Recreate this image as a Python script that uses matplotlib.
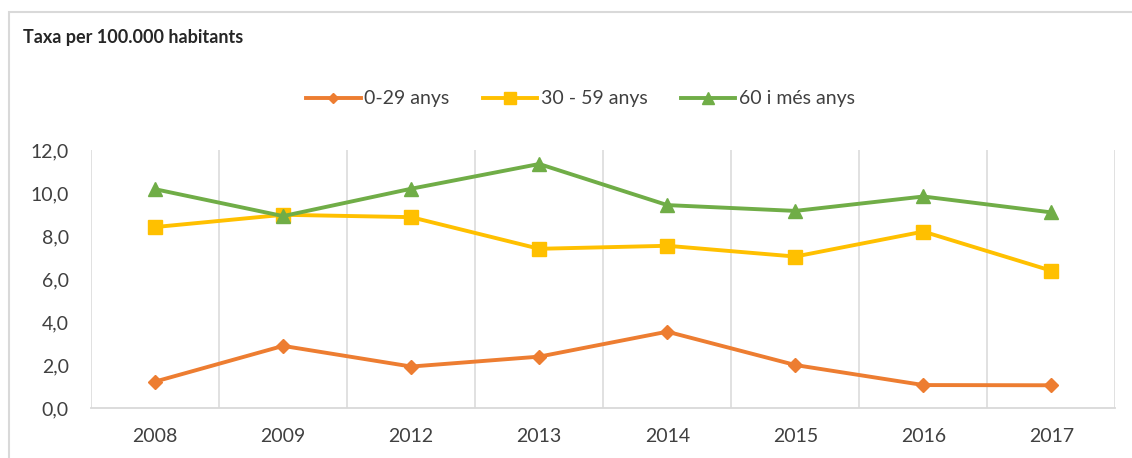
import matplotlib.pyplot as plt
from matplotlib.patches import Rectangle
from matplotlib.ticker import FuncFormatter

plt.rcParams['font.family'] = ['Lato', 'DejaVu Sans']

anys = ['2008', '2009', '2012', '2013', '2014', '2015', '2016', '2017']
joves = [1.24, 2.9, 1.94, 2.4, 3.56, 2.01, 1.08, 1.07]
adults = [8.42, 8.99, 8.88, 7.41, 7.55, 7.05, 8.21, 6.39]
grans = [10.18, 8.93, 10.2, 11.35, 9.44, 9.17, 9.84, 9.1]

noms = ['0-29 anys', '30 - 59 anys', '60 i més anys']
colors = ['#ED7D31', '#FFC000', '#70AD47']
text_col = '#404040'

fig = plt.figure(figsize=(11.32, 4.58), dpi=100)
ax = fig.add_axes([0.0804, 0.1085, 0.905, 0.5640])

x = range(len(anys))
ax.plot(x, joves, color=colors[0], lw=2.8, marker='D', ms=7, label=noms[0])
ax.plot(x, adults, color=colors[1], lw=2.8, marker='s', ms=10.5, label=noms[1])
ax.plot(x, grans, color=colors[2], lw=2.8, marker='^', ms=10.5, label=noms[2])

ax.set_xlim(-0.5, len(anys) - 0.5)
ax.set_ylim(0, 12)
ax.set_yticks([0, 2, 4, 6, 8, 10, 12])
ax.yaxis.set_major_formatter(FuncFormatter(lambda v, p: f'{v:.1f}'.replace('.', ',')))
ax.set_xticks(list(x))
ax.set_xticklabels(anys)

# linies verticals entre categories
for b in range(len(anys) + 1):
    ax.axvline(b - 0.5, color='#d9d9d9', lw=1.1, zorder=0)

for s in ['top', 'right', 'left']:
    ax.spines[s].set_visible(False)
ax.spines['bottom'].set_color('#d9d9d9')
ax.spines['bottom'].set_linewidth(1.3)
ax.tick_params(axis='both', length=0, labelsize=14, colors=text_col)
ax.tick_params(axis='y', pad=16)
ax.tick_params(axis='x', pad=14)

fig.text(0.0205, 0.919, 'Taxa per 100.000 habitants', fontsize=13,
         fontweight='bold', color='#262626', va='center')

fig.legend(loc='center', bbox_to_anchor=(0.513, 0.784), ncol=3, frameon=False,
           fontsize=14, handlelength=2.8, handletextpad=0.2, columnspacing=1.7,
           markerscale=0.8, labelcolor=text_col)

fig.patches.append(Rectangle((9 / 1132, -0.2), 1.2, 1.2 - 12 / 458,
                             transform=fig.transFigure, fill=False,
                             edgecolor='#d9d9d9', lw=1.5))

fig.savefig('out.png', dpi=100)
